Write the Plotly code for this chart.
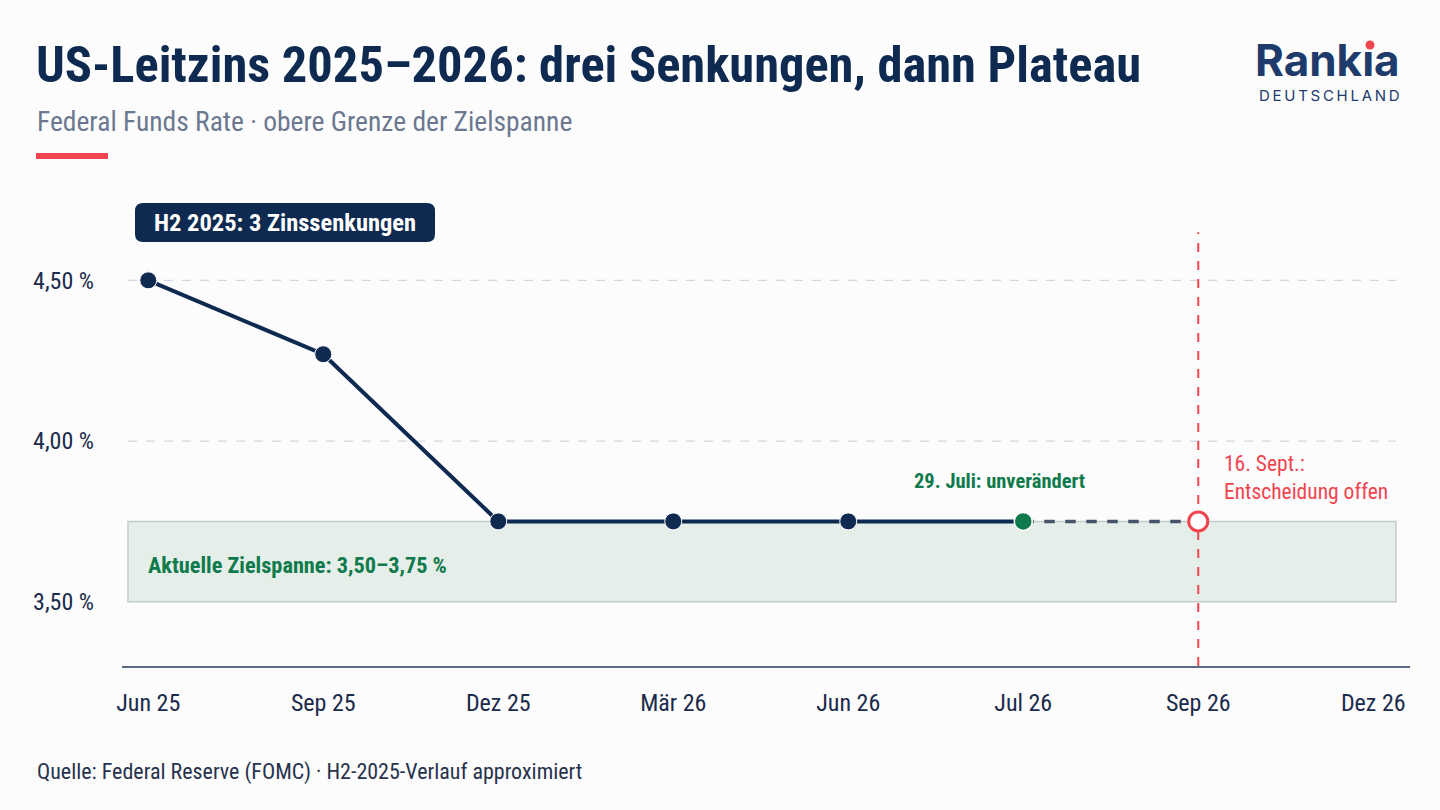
import plotly.graph_objects as go

# ---------------- data ----------------
months = ["Jun 25", "Sep 25", "Dez 25", "Mär 26", "Jun 26", "Jul 26", "Sep 26", "Dez 26"]
hist_months = ["Jun 25", "Sep 25", "Dez 25", "Mär 26", "Jun 26", "Jul 26"]
hist_rates = [4.50, 4.27, 3.75, 3.75, 3.75, 3.75]
outlook_months = ["Jul 26", "Sep 26"]
outlook_rates = [3.75, 3.75]
band_low, band_high = 3.50, 3.75
grid_levels = [4.00, 4.50]
y_ticks = [3.50, 4.00, 4.50]
y_tick_labels = ["3,50 %", "4,00 %", "4,50 %"]
decision_month = "Sep 26"
latest_month = "Jul 26"

# ---------------- styling ----------------
NAVY = "#0f2a50"
TEXT = "#1b2b4b"
GREEN = "#0f7a4b"
RED = "#f0454e"
SLATE = "#46546b"
FONT = "Roboto Condensed, Liberation Sans Narrow, Arial Narrow, DejaVu Sans Condensed, sans-serif"

W, H = 1440, 810
L, R, T, B = 122, 30, 200, 144
PW, PH = W - L - R, H - T - B


def px(x):
    return (x - L) / PW


def py(y):
    return (H - B - y) / PH


xi = {m: i for i, m in enumerate(months)}

fig = go.Figure()

# history line
fig.add_trace(go.Scatter(
    x=[xi[m] for m in hist_months], y=hist_rates, mode="lines",
    line=dict(color=NAVY, width=4), showlegend=False, hoverinfo="skip"))
# outlook dashed
fig.add_trace(go.Scatter(
    x=[xi[m] for m in outlook_months], y=outlook_rates, mode="lines",
    line=dict(color=SLATE, width=3.5, dash="dash"), showlegend=False, hoverinfo="skip"))
# navy markers
fig.add_trace(go.Scatter(
    x=[xi[m] for m in hist_months[:-1]], y=hist_rates[:-1], mode="markers",
    marker=dict(color=NAVY, size=17, line=dict(color="white", width=1)),
    showlegend=False, hoverinfo="skip"))
# latest green
fig.add_trace(go.Scatter(
    x=[xi[latest_month]], y=[hist_rates[-1]], mode="markers",
    marker=dict(color=GREEN, size=18, line=dict(color="white", width=1.5)),
    showlegend=False, hoverinfo="skip"))
# decision hollow red
fig.add_trace(go.Scatter(
    x=[xi[decision_month]], y=[outlook_rates[-1]], mode="markers",
    marker=dict(color="white", size=19, line=dict(color=RED, width=3)),
    showlegend=False, hoverinfo="skip"))

shapes = []
# band
shapes.append(dict(type="rect", xref="paper", yref="y", x0=px(128), x1=px(1396),
                   y0=band_low, y1=band_high, fillcolor="#e5eee9",
                   line=dict(color="#c3ccc8", width=1.5), layer="below"))
# grid lines
for g in grid_levels:
    shapes.append(dict(type="line", xref="paper", yref="y", x0=px(128), x1=px(1396),
                       y0=g, y1=g, line=dict(color="#cfd7e0", width=1.2, dash="dash"),
                       layer="below"))
# red vertical line
shapes.append(dict(type="line", xref="x", yref="y", x0=xi[decision_month], x1=xi[decision_month],
                   y0=3.30, y1=4.65, line=dict(color=RED, width=2, dash="dash"), layer="below"))
# red accent bar
shapes.append(dict(type="rect", xref="paper", yref="paper", x0=px(36), x1=px(108),
                   y0=py(159), y1=py(153), fillcolor=RED, line=dict(width=0)))
# rounded box for label
hw, hh, r = 150, 19.5, 8
path = (f"M {-hw+r},{-hh} L {hw-r},{-hh} Q {hw},{-hh} {hw},{-hh+r} L {hw},{hh-r} "
        f"Q {hw},{hh} {hw-r},{hh} L {-hw+r},{hh} Q {-hw},{hh} {-hw},{hh-r} "
        f"L {-hw},{-hh+r} Q {-hw},{-hh} {-hw+r},{-hh} Z")
shapes.append(dict(type="path", xref="paper", yref="paper", xsizemode="pixel", ysizemode="pixel",
                   xanchor=px(285), yanchor=py(222.5), path=path, fillcolor=NAVY,
                   line=dict(width=0)))
# logo red dot
shapes.append(dict(type="circle", xref="paper", yref="paper", xsizemode="pixel", ysizemode="pixel",
                   xanchor=px(1370), yanchor=py(45), x0=-4.5, x1=4.5, y0=-4.5, y1=4.5,
                   fillcolor=RED, line=dict(width=0)))

ann = []
ann.append(dict(xref="paper", yref="paper", x=px(34), y=py(64), xanchor="left", yanchor="middle",
                text="<b>US-Leitzins 2025–2026: drei Senkungen, dann Plateau</b>",
                font=dict(family=FONT, size=50.5, color=NAVY), showarrow=False))
ann.append(dict(xref="paper", yref="paper", x=px(35), y=py(121), xanchor="left", yanchor="middle",
                text="Federal Funds Rate · obere Grenze der Zielspanne",
                font=dict(family=FONT, size=27.5, color="#6b7890"), showarrow=False))
ann.append(dict(xref="paper", yref="paper", x=px(1402), y=py(60), xanchor="right", yanchor="middle",
                text="<b>Rankıa</b>",
                font=dict(family="Inter, Lato, sans-serif", size=44, color="#1e3b6b"), showarrow=False))
ann.append(dict(xref="paper", yref="paper", x=px(1402), y=py(95), xanchor="right", yanchor="middle",
                text="\u2009".join("DEUTSCHLAND"),
                font=dict(family="Inter, Lato, sans-serif", size=15, color="#1e3b6b"), showarrow=False))
ann.append(dict(xref="paper", yref="paper", x=px(285), y=py(222.5), xanchor="center", yanchor="middle",
                text="<b>H2 2025: 3 Zinssenkungen</b>",
                font=dict(family=FONT, size=24.5, color="white"), showarrow=False))
ann.append(dict(xref="paper", yref="y", x=px(146), y=(band_low + band_high) / 2 - 0.01,
                xanchor="left", yanchor="middle",
                text="<b>Aktuelle Zielspanne: 3,50–3,75 %</b>",
                font=dict(family=FONT, size=22.3, color=GREEN), showarrow=False))
ann.append(dict(xref="x", yref="y", x=xi[latest_month], y=hist_rates[-1], xshift=-24, yshift=40,
                xanchor="center", yanchor="middle", text="<b>29. Juli: unverändert</b>",
                font=dict(family=FONT, size=20.5, color=GREEN), showarrow=False))
ann.append(dict(xref="x", yref="y", x=xi[decision_month], y=outlook_rates[-1], xshift=24, yshift=44,
                xanchor="left", yanchor="middle", align="left",
                text="16. Sept.:<br>Entscheidung offen",
                font=dict(family=FONT, size=21.5, color=RED), showarrow=False))
ann.append(dict(xref="paper", yref="paper", x=px(35), y=py(772), xanchor="left", yanchor="middle",
                text="Quelle: Federal Reserve (FOMC) · H2-2025-Verlauf approximiert",
                font=dict(family=FONT, size=22, color="#27324d"), showarrow=False))

fig.update_layout(
    width=W, height=H,
    margin=dict(l=L, r=R, t=T, b=B),
    paper_bgcolor="#fcfcfd", plot_bgcolor="rgba(0,0,0,0)",
    font=dict(family=FONT, color=TEXT),
    shapes=shapes, annotations=ann, showlegend=False,
    xaxis=dict(range=[-0.15, 7.21], tickvals=list(range(len(months))), ticktext=months,
               showgrid=False, zeroline=False, showline=True, linecolor="#5b6b82", linewidth=2,
               ticks="", ticklabelstandoff=14, tickfont=dict(family=FONT, size=24, color=TEXT),
               fixedrange=True),
    yaxis=dict(range=[3.30, 4.75], tickvals=y_ticks, ticktext=y_tick_labels,
               showgrid=False, zeroline=False, showline=False, ticks="",
               ticklabelstandoff=27, tickfont=dict(family=FONT, size=24, color=TEXT),
               fixedrange=True),
)

fig.write_html("out.html")
